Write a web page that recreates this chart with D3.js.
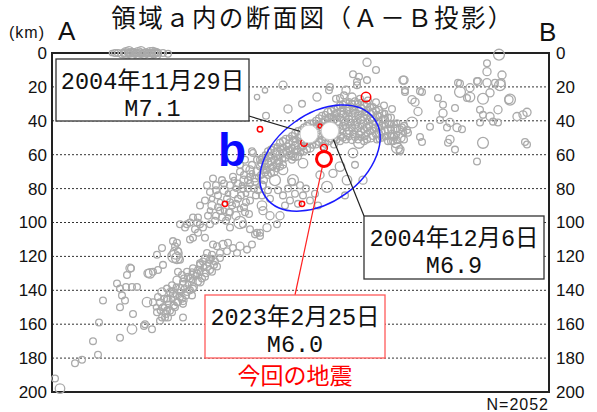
<!DOCTYPE html>
<html>
<head>
<meta charset="utf-8">
<script src="https://cdn.jsdelivr.net/npm/d3@7"></script>
<style>
body { margin: 0; background: #fff; }
svg { display: block; }
</style>
</head>
<body>
<div id="chart"></div>
<script>

// depth axis (km)
var depthTicks = [0, 20, 40, 60, 80, 100, 120, 140, 160, 180, 200];
var gridDepths = [20, 40, 60, 80, 100, 120, 140, 160, 180];

// hypocenters [distance from A (km), depth (km), magnitude]
var surfaceCluster = [[30,0,2.5],[33,0,3],[35,0.5,3.5],[37,0,3.5],[39,0.5,3],[41,0,3.5],[43,0,3],[45,0.5,3],
  [47,0,3.5],[49,0,3],[51,0.5,3.5],[53,0,3],[55.5,0,3],[58,0.5,3],[223.5,1,4.5],
  [31.5,0,3],[36,0,3],[38,0,3],[40,0,3],[42,0,3],[44,0,3.5],[46,0,3],[48,0,3],[50,0,3],[52,0,3],
  [37,0,4.5],[40,0.5,4.5],[43,0,4.5],[46,0.5,4],[49,0,4.5],[52,0.5,4.5],[38.5,-1,4],[44.5,-1,4],[50.5,-0.5,4]];

var upperScatter = [[157.5,5.5,3.5],[150.5,12.5,3],[153.5,14,3],[152.5,17,3],[157.5,16,3],[132.5,26,3.5],
  [138.5,22,3],[144,26.5,3],[115.5,19,3.5],[106.5,22,2.5],[102.5,26,2.5],[107,37,3],[139,20,3],[162,10,3],
  [147,22,3.5],[125,30,3],[118,33,3.5],[152.5,19,3],[100.5,59,3],[120.5,61,3]];

var eastScatter = [[217.5,6,3],[217.5,11,3.5],[225,13,3.5],[213,17,3.5],[217.5,17.5,3.5],[221.5,17.5,3],
  [224,19,4.5],[219,23.5,3.5],[215.5,27,4.5],[229,27.5,4.5],[209,26,4],[204,23,4.5],[203,17.5,3],[207.5,26.5,3],
  [223,33.5,3.5],[219,37.5,3.5],[214,33.5,3],[215.5,36.5,3],[214,41,3],[220.5,40.5,3],[223,41,3],[215.5,53,4.5],
  [212.5,64,3],[237.5,35,3.5],[235.5,36.5,3.5],[236.5,52.5,3],[237.5,54,3],[193,26.5,3],[195.5,30.5,3],
  [201.5,32.5,3],[195.5,35.5,3.5],[194,39.5,3],[199,41,3.5],[202.5,44,3.5],[205,45,3],[197.5,44,3],[199,51,3.5],
  [198,53,3],[201.5,57,3],[189,43.5,3],[184,49.5,3],[185,52.5,3],[183,34.5,3.5],[181.5,29,3.5],[185,23,3],
  [175.5,16,3.5],[176.5,23,3],[180,41,4.5],[177.5,45.5,3],[174,57,3.5],[204,18,3],[209,20.5,3.5],[212.5,16.5,3],
  [224.5,17.5,3.5],[228.5,27.5,3.5],[232.5,37.5,3.5],[184,22.5,3],[176.5,22,3],[180,27.5,3.5],[176,16,3.5],
  [171,49.5,3.5],[172.5,56,4.5],[174,58,3],[153.5,53,4.5]];

var bandCore = [[105,62,3],[105,65,3.5],[105.5,69,3],[104.5,72,3],[106,75,3],
  [108,58,3],[108.5,62,3],[108,65,3.5],[107.5,69,3],[108,72,3],
  [111,56,3],[111.5,59,3.5],[111,63,3],[110.5,67,3],[111,70,3.5],
  [114,53,3],[114.5,57,3],[114,60,3.5],[113.5,64,3],[114,67,3],
  [117,51,3.5],[117.5,55,3],[117,58,3],[116.5,62,3],
  [120,49,3],[120.5,52,3.5],[120,56,3],[119.5,60,3],[120,63,3],
  [123,46,3],[123.5,50,3],[123,54,3.5],[122.5,57,3],[123,61,3],
  [126,44,3],[126.5,48,3.5],[126,51,3],[125.5,55,3],[126,58,3],
  [129,42,3.5],[129.5,45,3],[129,49,3],[128.5,52,3],[129,56,3.5],
  [132,40,3],[132.5,43,3],[132,47,3.5],[131.5,50,3],[132,54,3],
  [135,37,3],[135.5,41,3],[135,44,3],[134.5,48,3.5],[135,51,3],[135.5,55,3],
  [138,35,3.5],[138.5,38,3],[138,42,3],[137.5,45,3],[138,49,3],[138.5,52,3],
  [141,33,3],[141.5,36,3],[141,39,3.5],[140.5,43,3],[141,47,3],[141.5,50,3],[141,54,3],
  [144,31,3],[144.5,35,3.5],[144,38,3],[143.5,42,3],[144,45,3.5],[144.5,49,3],[144,52,3],
  [147,30,3.5],[147.5,34,3],[147,37,3],[146.5,41,3],[147,44,3],[147.5,48,3.5],[147,51,3],
  [150,30,3],[150.5,34,3],[150,37,3.5],[149.5,41,3],[150,44,3],[150.5,48,3],[150,51,3.5],
  [153,30,3],[153.5,34,3.5],[153,37,3],[152.5,41,3],[153,44,3.5],[153.5,48,3],[153,51,3],
  [156,31,3.5],[156.5,35,3],[156,38,3],[155.5,42,3.5],[156,45,3],[156.5,49,3],[156,52,3],
  [159,32,3],[159.5,36,3],[159,39,3.5],[158.5,43,3],[159,46,3],[159.5,50,3.5],
  [162,34,3],[162.5,37,3.5],[162,41,3],[161.5,44,3],[162,48,3],[162.5,51,3],
  [165,36,3.5],[165.5,39,3],[165,43,3],[164.5,46,3.5],[165,50,3],
  [168,38,3],[168.5,42,3],[168,45,3.5],[167.5,49,3],[168,52,3],
  [171,42,3],[171.5,45,3.5],[171,49,3],[170.5,52,3],[174,45,3],[174.5,50,3.5],
  [142,27,3],[146,25,3],[150,26,3.5],[154,27,3],[158,28,3],[162,29,3],[166,31,3],[170,33,3],
  [170,48,3.5],[172,53,4],[175,44,3],[178,47,3]];

var bandFill = [[106.5,60,2.5],[106.5,63.5,3],[106.5,67,2.5],[106.5,70.5,3],
  [109.5,57,3],[109.5,60.5,2.5],[109.5,64,3],[109.5,67.5,2.5],[109.5,71,3],
  [112.5,55,2.5],[112.5,58,3],[112.5,61.5,2.5],[112.5,65,3],[112.5,68.5,2.5],
  [115.5,52,3],[115.5,55.5,2.5],[115.5,59,3],[115.5,62.5,2.5],[115.5,66,3],
  [118.5,50,2.5],[118.5,53.5,3],[118.5,57,2.5],[118.5,60.5,3],
  [121.5,47.5,3],[121.5,51,2.5],[121.5,54.5,3],[121.5,58,2.5],[121.5,61.5,3],
  [124.5,45,2.5],[124.5,48.5,3],[124.5,52,2.5],[124.5,55.5,3],[124.5,59,2.5],
  [127.5,43,3],[127.5,46.5,2.5],[127.5,50,3],[127.5,53.5,2.5],[127.5,57,3],
  [130.5,41,2.5],[130.5,44,3],[130.5,47.5,2.5],[130.5,51,3],[130.5,54.5,2.5],
  [133.5,38.5,3],[133.5,42,2.5],[133.5,45.5,3],[133.5,49,2.5],[133.5,52.5,3],
  [136.5,36,2.5],[136.5,39.5,3],[136.5,43,2.5],[136.5,46.5,3],[136.5,50,2.5],[136.5,53.5,3],
  [139.5,34,3],[139.5,37.5,2.5],[139.5,40.5,3],[139.5,44,2.5],[139.5,47.5,3],[139.5,51,2.5],
  [142.5,32,2.5],[142.5,35.5,3],[142.5,37.5,2.5],[142.5,41,3],[142.5,44,2.5],[142.5,47.5,3],[142.5,51.5,2.5],
  [145.5,30.5,3],[145.5,33,2.5],[145.5,36,3],[145.5,39.5,2.5],[145.5,43,3],[145.5,46.5,2.5],[145.5,50,3],
  [148.5,28.5,2.5],[148.5,32,3],[148.5,35.5,2.5],[148.5,39,3],[148.5,42.5,2.5],[148.5,46,3],[148.5,49.5,2.5],
  [151.5,28.5,3],[151.5,32,2.5],[151.5,35.5,3],[151.5,39,2.5],[151.5,42.5,3],[151.5,46,2.5],[151.5,49.5,3],
  [154.5,29,2.5],[154.5,32.5,3],[154.5,36,2.5],[154.5,39.5,3],[154.5,43,2.5],[154.5,46.5,3],[154.5,50,2.5],
  [157.5,30,3],[157.5,33.5,2.5],[157.5,37,3],[157.5,40.5,2.5],[157.5,44,3],[157.5,47.5,2.5],[157.5,51,3],
  [160.5,31.5,2.5],[160.5,35,3],[160.5,38.5,2.5],[160.5,42,3],[160.5,45.5,2.5],[160.5,49,3],
  [163.5,33.5,3],[163.5,37,2.5],[163.5,40.5,3],[163.5,44,2.5],[163.5,47.5,3],[163.5,51,2.5],
  [166.5,35.5,2.5],[166.5,39,3],[166.5,42.5,2.5],[166.5,46,3],[166.5,49.5,2.5],
  [169.5,38,3],[169.5,41.5,2.5],[169.5,45,3],[169.5,48.5,2.5],[169.5,52,3],
  [172.5,41,2.5],[172.5,44.5,3],[172.5,48,2.5],[172.5,51.5,3],[176,43,3],[176,47,2.5],[176,51,3]];

var westOfEllipse = [[96.5,63,3],[99,69,3.5],[101.5,74,3],[98,75,3],[95.5,80,3],[102.5,63,3],[100,58,3],
  [105,78,3.5],[103,81,3],[94,66,3]];

var middleSlab = [[76.5,87,3],[79,82,3],[80,90,3.5],[82,78,3],[83,84,3],[84,93,3],[85,75,3],[86,81,3.5],
  [87.5,86,3],[88.5,94,3],[89,78,3],[90.5,73,3],[91,83,3.5],[92,89,3],[93,77,3],[94,70,3],[94.5,84,3],
  [96,75,3.5],[97,68,3],[98,80,3],[99,73,3],[100,66,3],[101.5,76,3],[102.5,70,3.5],[104,63,3],[105.5,78,3],
  [78,96,3],[81.5,99,3],[87,99,3],[92,96,3.5],[96,91,3],[99,87,3],[102,84,3],[105,84,3],[108,81,3],
  [98.5,95,3],[80.5,74,3],[77.5,78,3],[74,90,3],[89,103,3],[95.5,101,3],
  [80,86,2.5],[82,81,3],[84,88,2.5],[86,77,3],[88,83,2.5],[90,90,3],[92,80,2.5],[93,86,3],[95,78,2.5],
  [96,72,3],[97,83,2.5],[99,77,3],[100,71,2.5],[101,80,3],[103,73,2.5],[104,67,3],[91,75,2.5],[89,88,3],
  [86,93,2.5],[83,91,3],[94,92,2.5],[97,88,3],[79,93,2.5],[82,96,3],[88,97,2.5]];

var ellipseLower = [[113,81,3],[115.5,84,3],[118,80,3],[119,87,3],[121.5,83,3],[123,89,3],[125.5,84,3],
  [127,80,3],[129,87,3],[116.5,90,3],[124,78,3],[131.5,83,3],[109,86,3],[120,76,3],[133,90,3],
  [115.5,69,4],[125.5,65,4],[120.5,75,4.5],[144,67,4],[147.5,75,4],[137.5,79,4.5],[140.5,71,3.5],
  [150.5,59,4],[155.5,75,3.5],[134,72,3.5],[111.5,75,4.5],[151.5,66,3],[146.5,84,3],[114,96,3.5],[105,90,4]];

var lowerRidge = [[96.5,94,3],[94,100,5],[105.5,93,3.5],[109,96,3.5],[107.5,103,3.5],[112.5,101,3],
  [101.5,107,3],[99,104,3],[104,106,3],[82.5,114,3],[85.5,113,3.5],[88,112,3],[90.5,115,3],[94,114,3.5],
  [97.5,116,3],[100,113,3],[92.5,118,3],[87.5,117,3],[84,118,3],[77.5,118,3],[80.5,113,3],[102.5,106,3],
  [104,108,3],[70.5,97,3],[72.5,100,3],[67.5,101,3],[75.5,103,3],[79,101,3],[85,97,3],[89,94,3]];

var upperSlab = [[64,101,3],[66.5,103,3],[69,100,3],[73,97,3],[74,101,3],[71.5,104,3],[73,106,3],
  [76.5,109,3],[70.5,109,3],[69,110,3],[60.5,111,3],[61.5,114,3],[63,117,3],[62.5,121,4.5],[64,122,3],
  [55,115,3],[55.5,125,3],[50.5,129,3],[48,130,3.5],[53,128,3],[52.5,119,3],[61,120,5],[62.5,112,3],
  [62,118,5]];

var mainSlab = [[75.5,123,3],[77.5,126,3.5],[79,122,3],[73,128,3],[70.5,131,3.5],[68,132,3],[65.5,135,3],
  [64,139,3.5],[60.5,142,3],[57.5,145,3],[54,147,3],[67.5,141,3],[70.5,139,3],[74,135,3.5],[76.5,132,3],
  [80,129,3],[82.5,126,3],[70,143,3],[65.5,146,3.5],[62.5,147,3],[52.5,153,3],[54,158,3],[56.5,156,3],
  [55.5,150,3],[58,146,3.5],[69,133,3],[72.5,130,3],[61.5,150,3],[65.5,148,3],[64,144,3],[57.5,152,3],
  [60,153,3],[65.5,156,3],[50.5,147,3],[53,144,3],[55,141,3.5],[57.5,139,3],[60,137,3],[62.5,134,3.5],
  [65,131,3],[67.5,129,3],[70.5,127,3],[81.5,123,3],[84,121,3],[80,119,3],[76.5,121,3],[74,125,3],
  [66,137,4],[59,141,3],[63,129,3],
  [80,121,2.5],[81,125,3],[78,124,2.5],[79,128,3],[76,126,2.5],[77,130,3],[74,129,2.5],[75,133,3],
  [72,131,2.5],[73,135,3],[70,134,2.5],[71,138,3],[68,136,2.5],[69,140,3],[66,139,2.5],[67,143,3],
  [64,141,2.5],[65,145,3],[62,143,2.5],[63,147,3],[60,145,2.5],[61,149,3],[58,148,2.5],[59,152,3],
  [56,150,2.5],[57,154,3],[54,152,2.5],[55,156,3],[52,150,2.5],[58,156,3],[62,138,2.5],[66,133,3],
  [70,129,2.5],[74,124,3],[60,140,2.5],[56,145,3]];

var deepTail = [[39,127,3.5],[37.5,131,3],[49,130,4],[32.5,136,3],[34,139,3],[37,138,3],[40,138,3],
  [42.5,138,3],[35,143,3],[36.5,146,3],[34,150,3],[25.5,146,3],[23.5,159,3],[40.5,154,3],[40,163,4],
  [46.5,160,3],[50,163,3],[47.5,147,4],[20.5,170,3],[34,168,3],[23,178,3],[15,181,3],[11.5,183,3],
  [1.5,192,3],[4,198,4],[46,161,3],[39.5,127,3]];

// events shown in red
var redEvents = [[104,45,2.5],[86.5,89,2.5],[125,89,2.5],[157,26,4],[134,43,2],[126,53,3],[136,56,3]];

// labelled main shocks
var mainDate = ["2004年11月29日", "2004年12月6日", "2023年2月25日"];
var mainMag = [7.1, 6.9, 6.0];
var mainDist = [128.5, 139, 136];
var mainDepth = [47.8, 46, 62.5];

var grayEvents = [].concat(surfaceCluster, upperScatter, eastScatter, bandCore, bandFill, westOfEllipse,
  middleSlab, ellipseLower, lowerRidge, upperSlab, mainSlab, deepTail);

var W = 597, H = 412;
var svg = d3.select("#chart").append("svg").attr("width", W).attr("height", H);

var x = d3.scaleLinear().domain([0, 248.5]).range([52, 549]);
var y = d3.scaleLinear().domain([0, 200]).range([53, 392]);
var r = d3.scaleLinear().domain([2, 7.1]).range([2, 9]);

var labelFont = "'Liberation Sans', Arial, sans-serif";
var jpFont = "'Noto Sans CJK JP', sans-serif";
var boxFont = "'Liberation Mono', 'Noto Sans CJK JP', monospace";

// dotted grid
svg.append("g").selectAll("line").data(gridDepths).enter().append("line")
    .attr("x1", 52).attr("x2", 549)
    .attr("y1", function(d) { return y(d); }).attr("y2", function(d) { return y(d); })
    .attr("stroke", "#333").attr("stroke-width", 1).attr("stroke-dasharray", "2,2");

// axes on both sides
var left = svg.append("g").attr("transform", "translate(52,0)")
    .call(d3.axisLeft(y).tickValues(depthTicks).tickSize(0).tickPadding(5));
var right = svg.append("g").attr("transform", "translate(549,0)")
    .call(d3.axisRight(y).tickValues(depthTicks).tickSize(0).tickPadding(7));
[left, right].forEach(function(g) {
    g.select(".domain").remove();
    g.selectAll("text").attr("font-size", 17).attr("font-family", labelFont).attr("fill", "#111");
});

svg.append("rect").attr("x", 52).attr("y", 53).attr("width", 497).attr("height", 339)
    .attr("fill", "none").attr("stroke", "#222").attr("stroke-width", 2);

// hypocenters
svg.append("g").selectAll("circle").data(grayEvents).enter().append("circle")
    .attr("cx", function(d) { return x(d[0]); })
    .attr("cy", function(d) { return y(d[1]); })
    .attr("r", function(d) { return r(d[2]); })
    .attr("fill", "none").attr("stroke", "#aaa").attr("stroke-width", 1.3);

svg.append("g").selectAll("circle").data(redEvents).enter().append("circle")
    .attr("cx", function(d) { return x(d[0]); })
    .attr("cy", function(d) { return y(d[1]); })
    .attr("r", function(d) { return r(d[2]); })
    .attr("fill", "none").attr("stroke", "#f00").attr("stroke-width", 1.5);

// region b
svg.append("ellipse")
    .attr("cx", 0).attr("cy", 0).attr("rx", 67).attr("ry", 44)
    .attr("transform", "translate(" + x(134) + "," + y(62) + ") rotate(-36)")
    .attr("fill", "none").attr("stroke", "#1a1aff").attr("stroke-width", 1.5);

svg.append("text").attr("x", 232).attr("y", 166).attr("text-anchor", "middle")
    .attr("font-family", labelFont).attr("font-weight", "bold").attr("font-size", 46)
    .attr("fill", "#0a0aff").text("b");

// annotation boxes (layout)
var boxes = [
    {x: 56, y: 59, w: 193, h: 62, ax: 249, ay: 116, color: "#333", line: "#222"},
    {x: 364, y: 216, w: 180, h: 63, ax: 364, ay: 216, color: "#333", line: "#222"},
    {x: 205, y: 295, w: 180, h: 63, ax: 295, ay: 295, color: "#ff5a5a", line: "#ff2020"}
];

// leader lines
svg.append("g").selectAll("line").data(boxes).enter().append("line")
    .attr("x1", function(d) { return d.ax; }).attr("y1", function(d) { return d.ay; })
    .attr("x2", function(d, i) { return x(mainDist[i]); })
    .attr("y2", function(d, i) { return y(mainDepth[i]); })
    .attr("stroke", function(d) { return d.line; }).attr("stroke-width", 1.2);

// main shocks
svg.append("g").selectAll("circle").data(mainMag).enter().append("circle")
    .attr("cx", function(d, i) { return x(mainDist[i]); })
    .attr("cy", function(d, i) { return y(mainDepth[i]); })
    .attr("r", function(d) { return r(d); })
    .attr("fill", "#fff")
    .attr("stroke", function(d, i) { return i == 2 ? "#f00" : "#ccc"; })
    .attr("stroke-width", function(d, i) { return i == 2 ? 3 : 1; });

var bg = svg.append("g").selectAll("g").data(boxes).enter().append("g");
bg.append("rect")
    .attr("x", function(d) { return d.x; }).attr("y", function(d) { return d.y; })
    .attr("width", function(d) { return d.w; }).attr("height", function(d) { return d.h; })
    .attr("fill", "#fff").attr("stroke", function(d) { return d.color; }).attr("stroke-width", 1.3);
bg.append("text")
    .attr("x", function(d) { return d.x + d.w / 2; }).attr("y", function(d) { return d.y + 30; })
    .attr("text-anchor", "middle").attr("font-family", boxFont).attr("font-size", 23.5).attr("fill", "#111")
    .text(function(d, i) { return mainDate[i]; });
bg.append("text")
    .attr("x", function(d) { return d.x + d.w / 2; }).attr("y", function(d) { return d.y + 57; })
    .attr("text-anchor", "middle").attr("font-family", boxFont).attr("font-size", 23.5).attr("fill", "#111")
    .text(function(d, i) { return "M" + mainMag[i].toFixed(1); });

svg.append("text").attr("x", 295).attr("y", 384).attr("text-anchor", "middle")
    .attr("font-family", jpFont).attr("font-size", 23).attr("fill", "#f00").text("今回の地震");

// titles
svg.append("text").attr("x", 313).attr("y", 27).attr("text-anchor", "middle")
    .attr("font-family", jpFont).attr("font-size", 24.5).attr("letter-spacing", 2.4).attr("fill", "#111")
    .text("領域ａ内の断面図（Ａ－Ｂ投影）");
svg.append("text").attr("x", 9).attr("y", 38).attr("font-family", labelFont).attr("font-size", 16)
    .attr("letter-spacing", 1).attr("fill", "#111").text("(km)");
svg.append("text").attr("x", 58).attr("y", 40).attr("font-family", labelFont).attr("font-size", 26)
    .attr("fill", "#111").text("A");
svg.append("text").attr("x", 539).attr("y", 41).attr("font-family", labelFont).attr("font-size", 26)
    .attr("fill", "#111").text("B");
svg.append("text").attr("x", 549).attr("y", 410).attr("text-anchor", "end")
    .attr("font-family", labelFont).attr("font-size", 16).attr("letter-spacing", 1).attr("fill", "#111")
    .text("N=2052");

</script>
</body>
</html>
